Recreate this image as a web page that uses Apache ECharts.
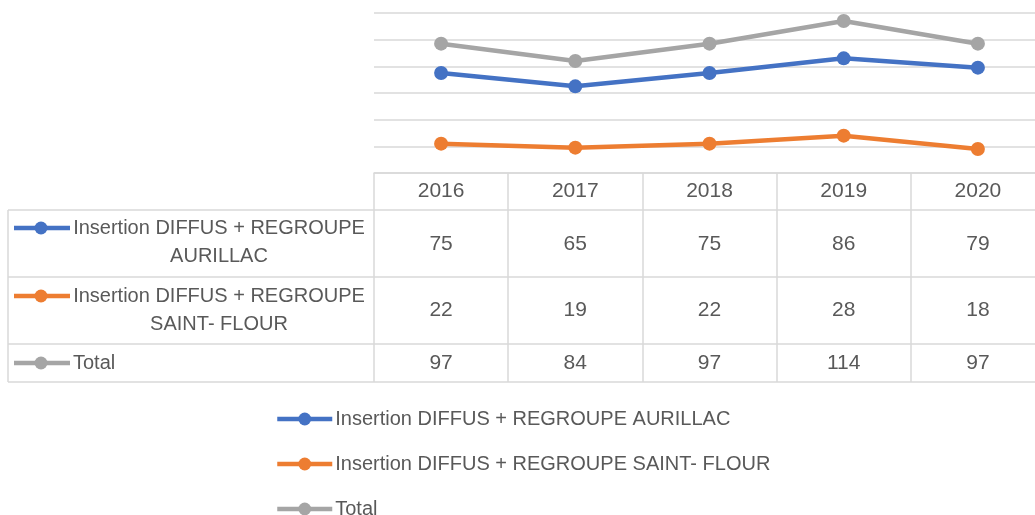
<!DOCTYPE html>
<html>
<head>
<meta charset="utf-8">
<script src="https://cdn.jsdelivr.net/npm/echarts@6/dist/echarts.min.js"></script>
<style>
html, body { margin: 0; padding: 0; background: #fff; }
#chart { width: 1035px; height: 515px; }
</style>
</head>
<body>
<div id="chart"></div>
<script>
// data
var years = ['2016', '2017', '2018', '2019', '2020'];
var aurillac = [75, 65, 75, 86, 79];
var saintFlour = [22, 19, 22, 28, 18];
var total = [97, 84, 97, 114, 97];
var seriesNames = ['Insertion DIFFUS + REGROUPE AURILLAC', 'Insertion DIFFUS + REGROUPE SAINT- FLOUR', 'Total'];
var rowLabels = [['Insertion DIFFUS + REGROUPE', 'AURILLAC'], ['Insertion DIFFUS + REGROUPE', 'SAINT- FLOUR'], ['Total']];
var colors = ['#4472C4', '#ED7D31', '#A5A5A5'];

var txtColor = '#595959';
var lineColor = '#d9d9d9';
var font = 'Liberation Sans, Arial, sans-serif';
var fontSize = 20;
var numSize = 21;

// table layout (pixels)
var axisY = 173;
var rowEdges = [210, 277, 344, 382];
var valueCenters = [244, 310, 363];
var labelTops = [228, 296, 363];
var lineStep = 28.5;
var legendTop = 409, legendStep = 45;

var chart = echarts.init(document.getElementById('chart'));
var rowValues = [aurillac, saintFlour, total];

var graphics = [];
rowEdges.forEach(function(y) {
  graphics.push({ type: 'line', shape: { x1: 8, y1: y, x2: 1035, y2: y }, style: { stroke: lineColor, lineWidth: 1.5 } });
});
graphics.push({ type: 'line', shape: { x1: 8, y1: rowEdges[0], x2: 8, y2: rowEdges[3] }, style: { stroke: lineColor, lineWidth: 1.5 } });
rowLabels.forEach(function(lines, i) {
  var y = labelTops[i];
  graphics.push({ type: 'line', shape: { x1: 14, y1: y, x2: 70, y2: y }, style: { stroke: colors[i], lineWidth: 4.5 }, z: 10 });
  graphics.push({ type: 'circle', shape: { cx: 41, cy: y, r: 6.5 }, style: { fill: colors[i] }, z: 11 });
  lines.forEach(function(t, k) {
    var multi = lines.length > 1;
    graphics.push({
      type: 'text',
      x: multi ? 219 : 73,
      y: y + k * lineStep,
      style: { text: t, fill: txtColor, font: fontSize + 'px ' + font, textAlign: multi ? 'center' : 'left', textVerticalAlign: 'middle' },
      z: 10
    });
  });
});

function valueAxis(idx) {
  return {
    type: 'category',
    data: years,
    gridIndex: 0,
    position: 'bottom',
    axisLine: { show: false },
    axisTick: { show: false },
    splitLine: { show: false },
    axisLabel: {
      interval: 0,
      margin: valueCenters[idx] - axisY,
      verticalAlign: 'middle',
      color: txtColor,
      fontFamily: font,
      fontSize: numSize,
      formatter: function(v, i) { return String(rowValues[idx][i]); }
    }
  };
}

// one legend block per series, stacked vertically
var legends = seriesNames.map(function(name, i) {
  return {
    orient: 'vertical',
    left: 275,
    top: legendTop + i * legendStep,
    padding: 0,
    itemWidth: 55,
    itemHeight: 16,
    lineStyle: { width: 4.5 },
    textStyle: { color: txtColor, fontSize: fontSize, fontFamily: font, padding: [0, 0, 0, -2] },
    data: [name]
  };
});

var option = {
  animation: false,
  backgroundColor: '#fff',
  color: colors,
  textStyle: { fontFamily: font },
  grid: { left: 374, right: -10, top: 13, bottom: 515 - axisY, containLabel: false, outerBoundsMode: 'none' },
  legend: legends,
  xAxis: [
    {
      type: 'category',
      data: years,
      boundaryGap: true,
      axisLine: { show: true, lineStyle: { color: lineColor, width: 1.5 } },
      axisTick: { show: true, length: rowEdges[3] - axisY, lineStyle: { color: lineColor, width: 1.5 } },
      axisLabel: { interval: 0, margin: 191 - axisY, verticalAlign: 'middle', color: txtColor, fontFamily: font, fontSize: numSize }
    },
    valueAxis(0),
    valueAxis(1),
    valueAxis(2)
  ],
  yAxis: {
    type: 'value',
    min: 0,
    max: 120,
    interval: 20,
    axisLine: { show: false },
    axisTick: { show: false },
    axisLabel: { show: false },
    splitLine: { lineStyle: { color: lineColor, width: 1.5 } }
  },
  series: [aurillac, saintFlour, total].map(function(d, i) {
    return {
      name: seriesNames[i],
      type: 'line',
      data: d,
      symbol: 'circle',
      symbolSize: 14,
      lineStyle: { width: 4.5, color: colors[i] },
      itemStyle: { color: colors[i] }
    };
  }),
  graphic: graphics
};
chart.setOption(option);
</script>
</body>
</html>
